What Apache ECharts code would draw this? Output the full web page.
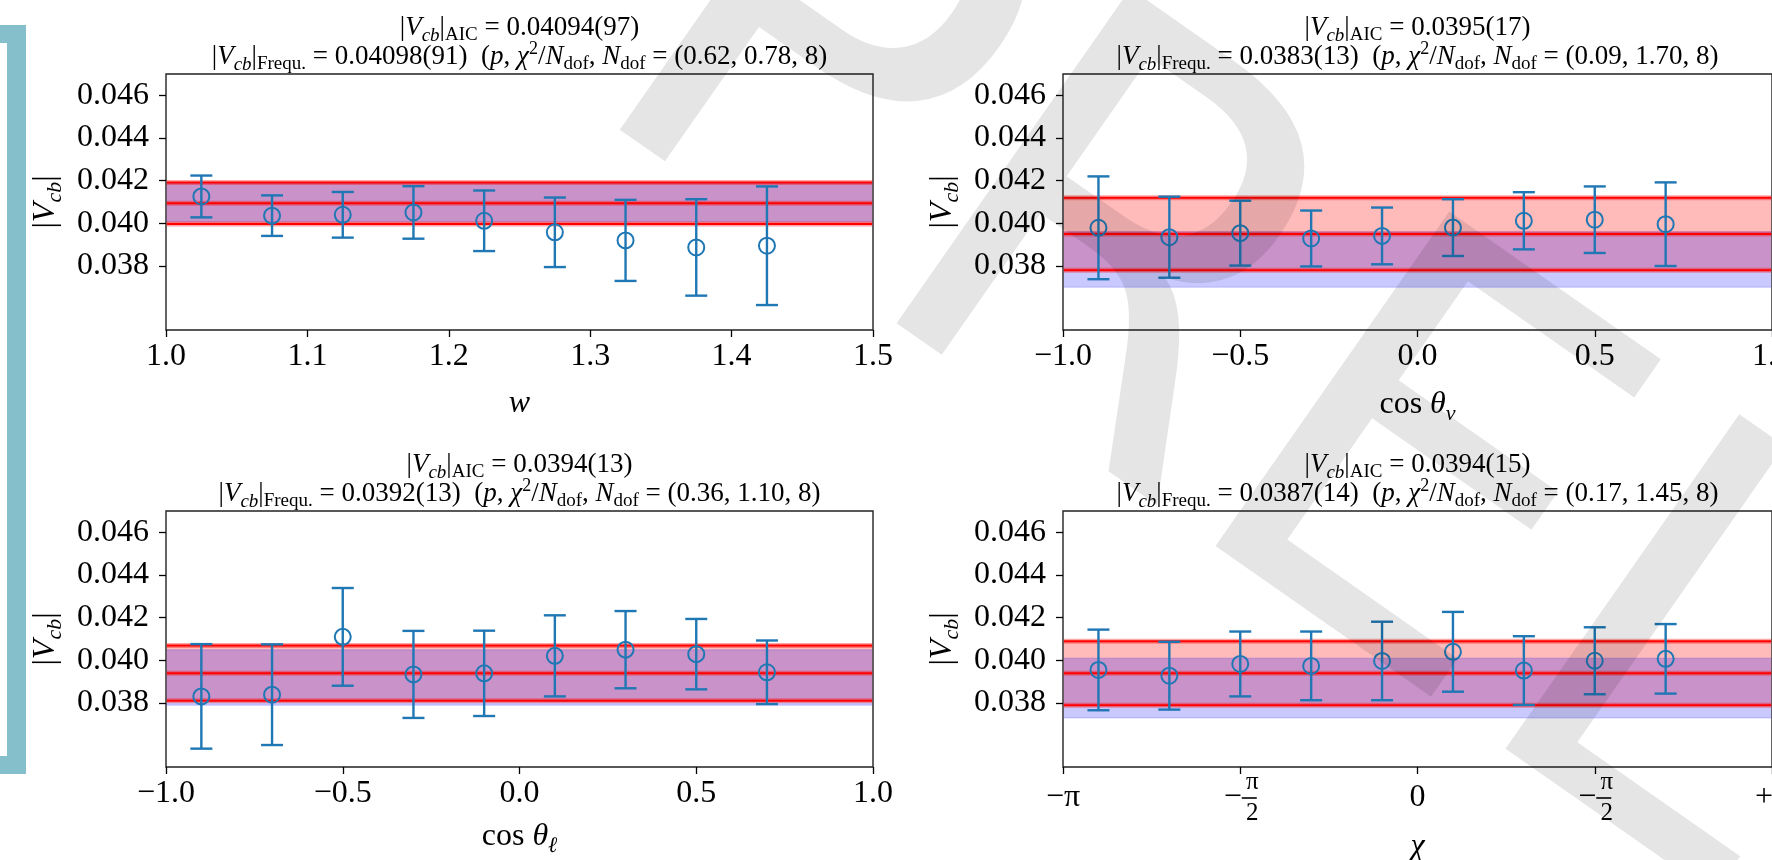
<!DOCTYPE html>
<html>
<head>
<meta charset="utf-8">
<script src="https://cdn.jsdelivr.net/npm/echarts@6/dist/echarts.min.js"></script>
<style>
html,body{margin:0;padding:0;background:#fff;overflow:hidden}
#c{width:1772px;height:860px}
</style>
</head>
<body>
<div id="c"></div>
<script>
// ---------------- data ----------------
// panel 1: w
const wX    = [1.025, 1.075, 1.125, 1.175, 1.225, 1.275, 1.325, 1.375, 1.425];
const wVcb  = [0.04126, 0.04036, 0.04040, 0.04051, 0.04012, 0.03958, 0.03920, 0.03887, 0.03895];
const wErr  = [0.00098, 0.00095, 0.00107, 0.00123, 0.00142, 0.00163, 0.00190, 0.00226, 0.00278];
// panel 2: cos theta_v
const cvX   = [-0.9, -0.7, -0.5, -0.3, -0.1, 0.1, 0.3, 0.5, 0.7];
const cvVcb = [0.03979, 0.03935, 0.03954, 0.03929, 0.03941, 0.03980, 0.04012, 0.04017, 0.03996];
const cvErr = [0.00241, 0.00190, 0.00152, 0.00131, 0.00133, 0.00133, 0.00134, 0.00156, 0.00196];
// panel 3: cos theta_l
const clX   = [-0.9, -0.7, -0.5, -0.3, -0.1, 0.1, 0.3, 0.5, 0.7];
const clVcb = [0.03831, 0.03839, 0.04110, 0.03934, 0.03939, 0.04021, 0.04050, 0.04029, 0.03944];
const clErr = [0.00245, 0.00236, 0.00229, 0.00204, 0.00200, 0.00190, 0.00181, 0.00165, 0.00149];
// panel 4: chi (in units of pi)
const chiX   = [-0.9, -0.7, -0.5, -0.3, -0.1, 0.1, 0.3, 0.5, 0.7];
const chiVcb = [0.03955, 0.03928, 0.03983, 0.03974, 0.03997, 0.04040, 0.03952, 0.03998, 0.04007];
const chiErr = [0.00189, 0.00159, 0.00152, 0.00161, 0.00184, 0.00187, 0.00161, 0.00157, 0.00163];

// fit results per panel (AIC average, frequentist fit)
const aicCentral  = [0.04094, 0.0395, 0.0394, 0.0394];
const aicErr      = [0.00097, 0.0017, 0.0013, 0.0015];
const aicText     = ['0.04094(97)', '0.0395(17)', '0.0394(13)', '0.0394(15)'];
const freqCentral = [0.04098, 0.0383, 0.0392, 0.0387];
const freqErr     = [0.00091, 0.0013, 0.0013, 0.0014];
const freqText    = ['0.04098(91)', '0.0383(13)', '0.0392(13)', '0.0387(14)'];
const fitStats    = ['(0.62, 0.78, 8)', '(0.09, 1.70, 8)', '(0.36, 1.10, 8)', '(0.17, 1.45, 8)'];

// tick labels
const yTickValues   = [0.038, 0.040, 0.042, 0.044, 0.046];
const chiTickLabels = ['−π', '−π/2', '0', '−π/2', '+π'];

// ---------------- layout / style ----------------
const SERIF = "'Liberation Serif', 'DejaVu Serif', serif";
const BLUE = '#1f77b4';
const grids = [
  {left: 166,  top: 74,  width: 707, height: 256},
  {left: 1063, top: 74,  width: 709, height: 256},
  {left: 166,  top: 511, width: 707, height: 256},
  {left: 1063, top: 511, width: 709, height: 256}
];

function rich(F) {
  const base = {fontFamily: SERIF, fontWeight: 'normal', color: '#000'};
  const s = Math.round(F * 0.7);
  return {
    b:   Object.assign({fontSize: F, lineHeight: Math.round(F * 1.25)}, base),
    i:   Object.assign({fontSize: F, fontStyle: 'italic', lineHeight: Math.round(F * 1.25)}, base),
    sub: Object.assign({fontSize: s, fontStyle: 'italic', lineHeight: s, padding: [Math.round(F * 0.55), 0, 0, 0]}, base),
    subr:Object.assign({fontSize: s, lineHeight: s, padding: [Math.round(F * 0.55), 0, 0, 0]}, base),
    sup: Object.assign({fontSize: Math.round(F * 0.65), lineHeight: Math.round(F * 0.65), padding: [0, 0, Math.round(F * 0.6), 0]}, base)
  };
}

const TF = 27;
const titles = [];
grids.forEach((g, k) => {
  const cx = g.left + g.width / 2;
  titles.push({
    left: cx, top: g.top - 46 - 17, textAlign: 'center', padding: 0,
    text: '{b||}{i|V}{sub|cb}{b||}{subr|AIC}{b| = ' + aicText[k] + '}',
    textStyle: {fontWeight: 'normal', rich: rich(TF)}
  });
  titles.push({
    left: cx, top: g.top - 17 - 17, textAlign: 'center', padding: 0,
    text: '{b||}{i|V}{sub|cb}{b||}{subr|Frequ.}{b| = ' + freqText[k] + '  (}{i|p}{b|, }{i|χ}{sup|2}{b|/}{i|N}{subr|dof}{b|, }{i|N}{subr|dof}{b| = ' + fitStats[k] + '}',
    textStyle: {fontWeight: 'normal', rich: rich(TF)}
  });
});

const minus = s => s.replace('-', '−');
const tickFont = {fontFamily: SERIF, fontSize: 32, color: '#000'};
const xNames = [
  '{i|w}',
  '{b|cos }{i|θ}{sub|v}',
  '{b|cos }{i|θ}{sub|ℓ}',
  '{i|χ}'
];
const xNameGap = [54, 55, 50, 60];

const xAxes = grids.map((g, k) => {
  const base = {
    type: 'value', gridIndex: k,
    name: xNames[k], nameLocation: 'middle', nameGap: xNameGap[k],
    nameTextStyle: {rich: rich(32)},
    axisLine: {show: false, onZero: false},
    axisTick: {show: true, inside: false, length: 7, lineStyle: {color: '#000', width: 1.3}},
    splitLine: {show: false},
    axisLabel: Object.assign({margin: 11, showMinLabel: true, showMaxLabel: true, hideOverlap: false}, tickFont)
  };
  if (k === 0) {
    return Object.assign(base, {min: 1.0, max: 1.5, interval: 0.1,
      axisLabel: Object.assign(base.axisLabel, {formatter: v => v.toFixed(1)})});
  }
  if (k === 3) {
    const r = rich(32);
    r.f = {fontFamily: SERIF, fontSize: 25, lineHeight: 21, padding: [0, 0, 0, 24], color: '#000'};
    r.m = {fontFamily: SERIF, fontSize: 32, lineHeight: 10, color: '#000', verticalAlign: 'middle'};
    r.bar = {width: 15, height: 1.6, lineHeight: 10, backgroundColor: '#000', fontSize: 1, verticalAlign: 'middle'};
    return Object.assign(base, {min: -1, max: 1, interval: 0.5,
      axisLabel: Object.assign(base.axisLabel, {
        margin: 31, verticalAlign: 'middle', rich: r,
        formatter: v => {
          const s = chiTickLabels[Math.round((v + 1) / 0.5)];
          if (s.indexOf('/') >= 0) {
            const sign = s.charAt(0), num = s.slice(1).split('/');
            return '{f|' + num[0] + '}\n{m|' + sign + '}{bar| }\n{f|' + num[1] + '}';
          }
          return '{b|' + s + '}';
        }
      })});
  }
  return Object.assign(base, {min: -1, max: 1, interval: 0.5,
    axisLabel: Object.assign(base.axisLabel, {formatter: v => minus(v.toFixed(1))})});
});

const yAxes = grids.map((g, k) => ({
  type: 'value', gridIndex: k, min: 0.035, max: 0.047,
  name: '{b||}{i|V}{sub|cb}{b||}', nameLocation: 'middle', nameGap: 100,
  nameTextStyle: {rich: rich(32)},
  axisLine: {show: false, onZero: false},
  splitLine: {show: false},
  axisTick: {show: true, inside: false, length: 7, customValues: yTickValues, lineStyle: {color: '#000', width: 1.3}},
  axisLabel: Object.assign({margin: 17, customValues: yTickValues, formatter: v => v.toFixed(3)}, tickFont)
}));

function bandSeries(k, lo, hi, fill, edge, z) {
  return {
    type: 'custom', xAxisIndex: k, yAxisIndex: k, z: z, silent: true,
    data: [[xAxes[k].min, lo, hi]],
    encode: {x: 0, y: [1, 2]},
    renderItem: (params, api) => {
      const cs = params.coordSys;
      const yTop = api.coord([api.value(0), api.value(2)])[1];
      const yBot = api.coord([api.value(0), api.value(1)])[1];
      const x0 = cs.x + 0.8, x1 = cs.x + cs.width - 0.8;
      const ch = [{type: 'rect', shape: {x: x0, y: yTop, width: x1 - x0, height: yBot - yTop}, style: {fill: fill}}];
      if (edge) {
        ch.push({type: 'line', shape: {x1: x0, y1: yTop, x2: x1, y2: yTop}, style: {stroke: edge, lineWidth: 1.5}});
        ch.push({type: 'line', shape: {x1: x0, y1: yBot, x2: x1, y2: yBot}, style: {stroke: edge, lineWidth: 1.5}});
      }
      return {type: 'group', children: ch};
    }
  };
}

function lineSeries(k, values) {
  return {
    type: 'custom', xAxisIndex: k, yAxisIndex: k, z: 3, silent: true,
    data: values.map(v => [xAxes[k].min, v]),
    encode: {x: 0, y: 1},
    renderItem: (params, api) => {
      const cs = params.coordSys;
      const y = api.coord([api.value(0), api.value(1)])[1];
      const x0 = cs.x + 0.8, x1 = cs.x + cs.width - 0.8;
      return {type: 'group', children: [
        {type: 'line', shape: {x1: x0, y1: y, x2: x1, y2: y}, style: {stroke: 'rgba(255,0,0,0.35)', lineWidth: 5}},
        {type: 'line', shape: {x1: x0, y1: y, x2: x1, y2: y}, style: {stroke: '#ff0000', lineWidth: 2}}
      ]};
    }
  };
}

function errSeries(k, xs, ys, es) {
  return {
    type: 'custom', xAxisIndex: k, yAxisIndex: k, z: 4, silent: true,
    data: xs.map((x, i) => [x, ys[i], es[i]]),
    encode: {x: 0, y: 1},
    renderItem: (params, api) => {
      const x = api.value(0), y = api.value(1), e = api.value(2);
      const c = api.coord([x, y]);
      const t = api.coord([x, y + e]);
      const b = api.coord([x, y - e]);
      const cap = 11;
      const st = {stroke: BLUE, lineWidth: 2.4, fill: null};
      return {type: 'group', children: [
        {type: 'line', shape: {x1: c[0], y1: t[1], x2: c[0], y2: b[1]}, style: st},
        {type: 'line', shape: {x1: c[0] - cap, y1: t[1], x2: c[0] + cap, y2: t[1]}, style: st},
        {type: 'line', shape: {x1: c[0] - cap, y1: b[1], x2: c[0] + cap, y2: b[1]}, style: st},
        {type: 'circle', shape: {cx: c[0], cy: c[1], r: 8}, style: {stroke: BLUE, lineWidth: 2, fill: null}}
      ]};
    }
  };
}

const pts = [[wX, wVcb, wErr], [cvX, cvVcb, cvErr], [clX, clVcb, clErr], [chiX, chiVcb, chiErr]];
const series = [];
grids.forEach((g, k) => {
  series.push(bandSeries(k, aicCentral[k] - aicErr[k], aicCentral[k] + aicErr[k], 'rgba(255,0,0,0.27)', null, 1));
  series.push(bandSeries(k, freqCentral[k] - freqErr[k], freqCentral[k] + freqErr[k], 'rgba(0,0,255,0.21)', 'rgba(0,0,255,0.12)', 2));
  series.push(lineSeries(k, [aicCentral[k] - aicErr[k], aicCentral[k], aicCentral[k] + aicErr[k]]));
  series.push(errSeries(k, pts[k][0], pts[k][1], pts[k][2]));
});

const graphic = [
  // teal frame on the left
  {type: 'rect', shape: {x: 7, y: 25, width: 19, height: 749}, style: {fill: '#85bfcb'}, silent: true},
  {type: 'rect', shape: {x: 0, y: 25, width: 26, height: 18}, style: {fill: '#85bfcb'}, silent: true},
  {type: 'rect', shape: {x: 0, y: 756, width: 26, height: 18}, style: {fill: '#85bfcb'}, silent: true},
  // watermark
  {type: 'text', x: 658, y: -21, rotation: -0.61, z: 100, silent: true,
   style: {text: 'PRELIMINARY', font: "560px 'DejaVu Sans'", fill: 'rgba(0,0,0,0.1)', align: 'left', verticalAlign: 'middle'}}
];

const chart = echarts.init(document.getElementById('c'), null, {renderer: 'canvas'});
chart.setOption({
  backgroundColor: '#fff',
  animation: false,
  title: titles,
  grid: grids.map(g => Object.assign({show: true, borderColor: '#222', borderWidth: 1.4, backgroundColor: 'transparent', containLabel: false, outerBoundsMode: 'none'}, g)),
  xAxis: xAxes,
  yAxis: yAxes,
  series: series,
  graphic: graphic
});
</script>
</body>
</html>
